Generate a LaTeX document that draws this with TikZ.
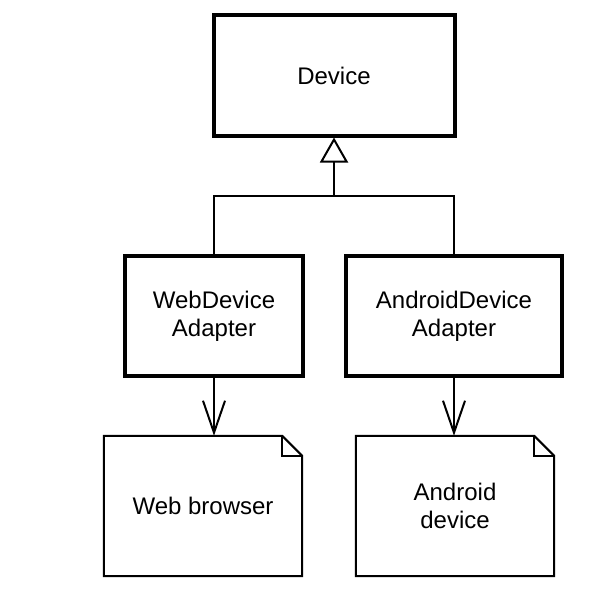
\documentclass[tikz,border=0pt]{standalone}
\usepackage{fontspec}
\setmainfont{Liberation Sans}
\usetikzlibrary{arrows.meta}

\tikzset{
    classbox/.style={draw, line width=4pt, align=center, inner sep=0pt},
    notebox/.style={align=center, inner sep=0pt, minimum width=198pt, minimum height=140pt},
    conn/.style={line width=2pt},
}

\begin{document}
\begin{tikzpicture}[x=1pt, y=-1pt, font=\fontsize{24}{27.6}\selectfont]
    \fill[white] (0,0) rectangle (615,615);
    \useasboundingbox (0,0) rectangle (615,615);
    \node[classbox, minimum width=241pt, minimum height=120pt] (device) at (334,75.5) {Device};
    \node[classbox, minimum width=178pt, minimum height=120pt] (webadapter) at (214,316) {WebDevice\\Adapter};
    \node[classbox, minimum width=216pt, minimum height=120pt] (androidadapter) at (454,316) {AndroidDevice\\Adapter};
    \node[notebox] (web) at (203,506) {Web browser};
    \node[notebox] (android) at (455,506) {Android\\device};
    \foreach \n in {web, android} {
        \draw[conn] (\n.north west) -- ([xshift=-20pt]\n.north east) -- ([yshift=-20pt]\n.north east) -- (\n.south east) -- (\n.south west) -- cycle;
        \draw[conn] ([xshift=-20pt]\n.north east) |- ([yshift=-20pt]\n.north east);
    }
    \coordinate (joint) at (334,196);
    \draw[conn] (webadapter.north) |- (joint) -| (androidadapter.north);
    \draw[conn, -{Triangle[open, length=25pt, width=28pt]}] (joint) -- (device.south);
    \draw[conn, -{Straight Barb[length=32pt, width=22pt]}] (webadapter.south) -- (webadapter.south |- web.north);
    \draw[conn, -{Straight Barb[length=32pt, width=22pt]}] (androidadapter.south) -- (androidadapter.south |- android.north);
\end{tikzpicture}
\end{document}
